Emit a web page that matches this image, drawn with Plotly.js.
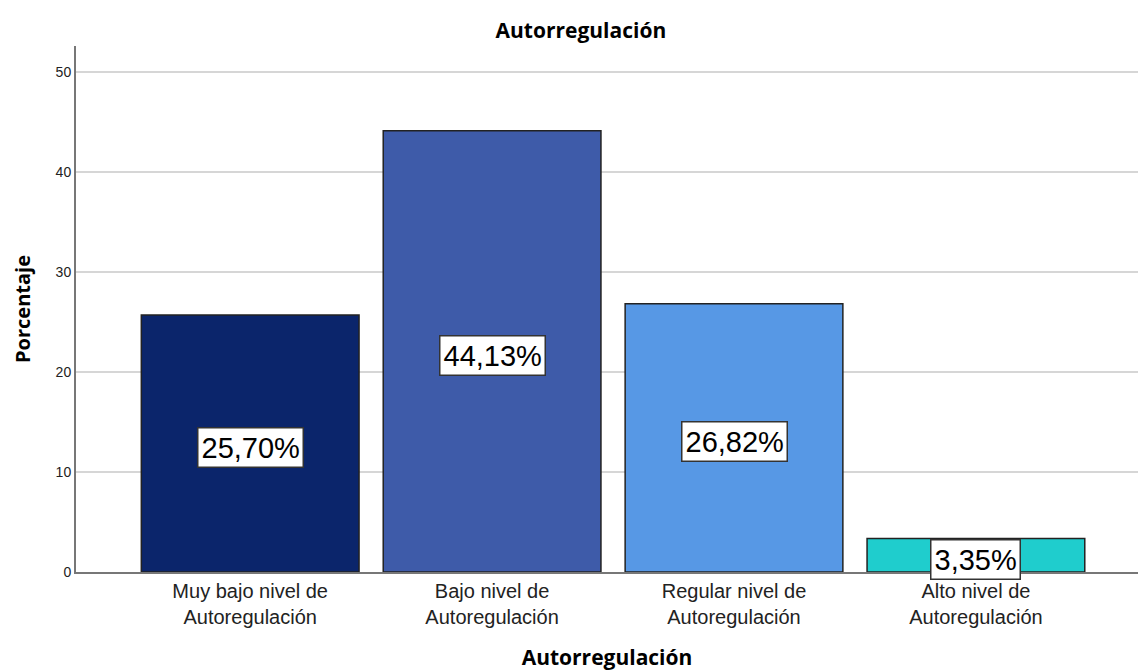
<!DOCTYPE html>
<html>
<head>
<meta charset="utf-8">
<script src="https://cdn.plot.ly/plotly-3.0.1.min.js"></script>
<style>html,body{margin:0;padding:0;background:#fff;}#chart{width:1139px;height:671px;}</style>
</head>
<body>
<div id="chart"></div>
<script>
const categories = ["Muy bajo nivel de<br>Autoregulación", "Bajo nivel de<br>Autoregulación", "Regular nivel de<br>Autoregulación", "Alto nivel de<br>Autoregulación"];
const values = [25.70, 44.13, 26.82, 3.35];
const valueLabels = ["25,70%", "44,13%", "26,82%", "3,35%"];
const barColors = ["#0b256b", "#3e5ba9", "#5798e5", "#1fcdcd"];
const yTicks = [0, 10, 20, 30, 40, 50];

const font = "Liberation Sans, Arial, sans-serif";
const boldFont = "Open Sans, Lato, sans-serif";

const trace = {
  type: "bar",
  x: categories,
  y: values,
  marker: {color: barColors, line: {color: "#222222", width: 1.5}},
  hoverinfo: "none"
};

const annotations = categories.map((c, i) => ({
  x: c, y: values[i] / 2, xref: "x", yref: "y",
  text: valueLabels[i], showarrow: false, yshift: -4,
  font: {family: font, size: 29, color: "#000"},
  bgcolor: "#ffffff", bordercolor: "#333333", borderwidth: 1.5, borderpad: 3
}));

const layout = {
  width: 1139, height: 671,
  margin: {l: 76, r: 1, t: 46, b: 99},
  paper_bgcolor: "#ffffff", plot_bgcolor: "#ffffff",
  title: {text: "<b>Autorregulación</b>", font: {family: boldFont, size: 21, color: "#000"}, x: 0.51, xanchor: "center", y: 0.955, yanchor: "middle"},
  bargap: 0.1,
  showlegend: false,
  xaxis: {
    range: [-0.72, 3.67],
    showline: true, linecolor: "#777777", linewidth: 2,
    ticks: "", showgrid: false, zeroline: false,
    tickfont: {family: font, size: 20, color: "#222"},
    title: {text: "<b>Autorregulación</b>", font: {family: boldFont, size: 21, color: "#000"}, standoff: 25},
    fixedrange: true
  },
  yaxis: {
    range: [0, 52.6],
    tickvals: yTicks, ticktext: yTicks.map(String),
    showline: true, linecolor: "#777777", linewidth: 2,
    ticks: "", ticklen: 0,
    showgrid: true, gridcolor: "#d6d6d6", gridwidth: 2,
    zeroline: false,
    tickfont: {family: font, size: 14, color: "#222"},
    title: {text: "<b>Porcentaje</b>", font: {family: boldFont, size: 20, color: "#000"}, standoff: 20},
    fixedrange: true
  },
  annotations: annotations
};

Plotly.newPlot("chart", [trace], layout, {displayModeBar: false, staticPlot: true});
</script>
</body>
</html>
